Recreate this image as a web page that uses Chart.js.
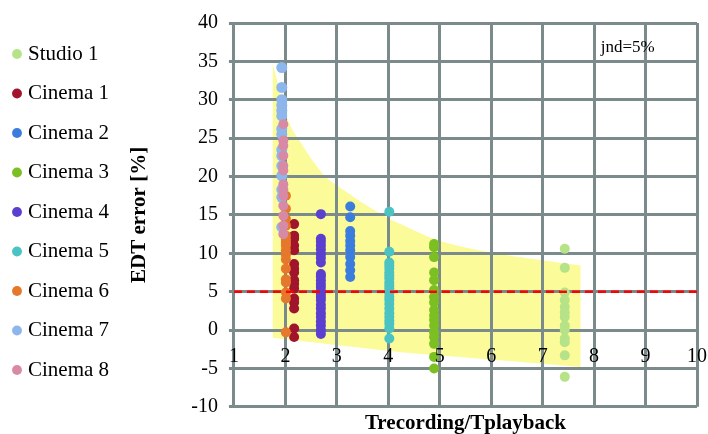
<!DOCTYPE html>
<html>
<head>
<meta charset="utf-8">
<script src="https://cdn.jsdelivr.net/npm/chart.js@4/dist/chart.umd.min.js"></script>
<style>
  html, body { margin: 0; padding: 0; background: #ffffff; }
  canvas { display: block; }
</style>
</head>
<body>
<canvas id="c" width="708" height="434"></canvas>
<script>
// ---- data ----
const seriesNames = ['Studio 1', 'Cinema 1', 'Cinema 2', 'Cinema 3', 'Cinema 4', 'Cinema 5', 'Cinema 6', 'Cinema 7', 'Cinema 8'];
const seriesX = [7.43, 2.17, 3.26, 4.89, 2.69, 4.02, 2.01, 1.93, 1.96];
const studio1 = [10.6, 8.1, 4.9, 3.9, 3.0, 2.3, 1.7, 0.6, 0.0, -1.1, -1.6, -3.3, -6.1];
const cinema1 = [13.8, 12.3, 11.9, 11.0, 10.4, 8.6, 8.0, 7.5, 6.5, 6.0, 5.4, 4.1, 3.6, 2.8, 0.2, -0.9];
const cinema2 = [16.1, 14.7, 12.9, 12.3, 11.6, 11.0, 10.4, 9.5, 8.6, 7.8, 6.9];
const cinema3 = [11.2, 10.8, 9.5, 7.5, 6.5, 5.2, 4.3, 3.6, 2.6, 1.9, 1.3, 0.6, -0.3, -0.9, -1.8, -3.5, -5.0];
const cinema4 = [15.1, 11.9, 11.5, 11.0, 10.5, 9.9, 9.4, 8.8, 7.3, 7.0, 6.5, 6.0, 5.6, 5.1, 4.7, 4.3, 3.9, 3.3, 2.8, 2.2, 1.7, 1.1, 0.6, 0.0, -0.5];
const cinema5 = [15.4, 10.2, 8.8, 8.4, 8.0, 7.5, 7.1, 6.7, 6.2, 5.8, 5.4, 4.8, 4.3, 3.9, 3.4, 2.8, 2.2, 1.7, 1.2, 0.8, 0.2, -1.1];
const cinema6 = [17.5, 15.8, 14.5, 13.6, 12.3, 11.8, 11.4, 11.0, 10.4, 9.8, 9.2, 8.0, 6.6, 6.2, 4.9, 4.1, -0.3];
const cinema7 = [34.2, 31.6, 30.0, 29.3, 28.6, 27.9, 26.2, 25.5, 23.5, 22.7, 21.4, 20.1, 18.3, 17.3, 13.4];
const cinema8 = [26.8, 24.7, 24.0, 22.7, 21.4, 20.8, 19.0, 18.3, 17.5, 16.2, 14.9, 13.6, 12.5];
const seriesValues = [studio1, cinema1, cinema2, cinema3, cinema4, cinema5, cinema6, cinema7, cinema8];
const seriesColors = ['#b6e388', '#a0142c', '#3b7ddd', '#7cbf23', '#5b3fcf', '#4cc3c3', '#e5782a', '#8db6ec', '#d68aa6'];
const seriesRadius = [5, 5, 5, 5, 5, 5, 5, 5.5, 5];

// tolerance band
const bandUpperX = [1.75, 2.05, 2.3, 2.79, 3.01, 3.91, 4.24, 4.88, 5.99, 7.0, 7.74];
const bandUpperY = [34.8, 27.4, 24.4, 19.9, 18.8, 14.9, 13.8, 11.9, 10.1, 9.1, 8.4];
const bandLowerX = [1.75, 4.24, 7.0, 7.74];
const bandLowerY = [-1.0, -2.9, -4.4, -4.8];

// jnd reference line
const jndX = [1, 10];
const jndY = [5, 5];
const jndLabel = 'jnd=5%';
const jndLabelPos = [8.13, 36.8];

// axes
const xTicks = [1, 10, 1];   // min, max, step
const yTicks = [-10, 40, 5];
const xTitle = 'Trecording/Tplayback';
const yTitle = 'EDT error [%]';

// ---- chart ----
const SERIF = "'Liberation Serif', 'Times New Roman', serif";
const GRID = '#7b8b8b';

const datasets = seriesNames.map((name, i) => ({
  label: name,
  data: seriesValues[i].map(v => ({ x: seriesX[i], y: v })),
  backgroundColor: seriesColors[i],
  borderColor: seriesColors[i],
  pointRadius: seriesRadius[i],
  pointBorderWidth: 0,
  pointStyle: 'circle',
  order: 10 - i
}));

datasets.push({
  type: 'line',
  label: 'band upper',
  data: bandUpperX.map((x, i) => ({ x, y: bandUpperY[i] })),
  borderWidth: 0,
  pointRadius: 0,
  cubicInterpolationMode: 'monotone',
  backgroundColor: '#fbfb9a',
  fill: '+1',
  order: 20
});
datasets.push({
  type: 'line',
  label: 'band lower',
  data: bandLowerX.map((x, i) => ({ x, y: bandLowerY[i] })),
  borderWidth: 0,
  pointRadius: 0,
  fill: false,
  order: 21
});
datasets.push({
  type: 'line',
  label: 'jnd',
  data: jndX.map((x, i) => ({ x, y: jndY[i] })),
  borderColor: '#ff0000',
  borderWidth: 2.5,
  borderDash: [8, 5],
  pointRadius: 0,
  fill: false,
  order: 0
});

const jndTextPlugin = {
  id: 'jndText',
  afterDatasetsDraw(chart) {
    const { ctx, scales } = chart;
    ctx.save();
    ctx.font = '17px ' + SERIF;
    ctx.fillStyle = '#000';
    ctx.textAlign = 'left';
    ctx.textBaseline = 'middle';
    ctx.fillText(jndLabel, scales.x.getPixelForValue(jndLabelPos[0]), scales.y.getPixelForValue(jndLabelPos[1]));
    ctx.restore();
  }
};

new Chart(document.getElementById('c'), {
  type: 'scatter',
  data: { datasets },
  plugins: [jndTextPlugin],
  options: {
    responsive: false,
    animation: false,
    devicePixelRatio: 1,
    layout: { padding: { top: 20, right: 11, bottom: -2, left: -2 } },
    plugins: {
      filler: { drawTime: 'beforeDraw' },
      tooltip: { enabled: false },
      legend: {
        position: 'left',
        align: 'start',
        maxWidth: 122,
        title: { display: true, text: ' ', color: 'rgba(0,0,0,0)', font: { size: 5, lineHeight: 1 }, padding: 0 },
        labels: {
          usePointStyle: true,
          pointStyle: 'circle',
          boxWidth: 1,
          boxHeight: 7,
          padding: 18.5,
          color: '#000',
          font: { family: SERIF, size: 21 },
          filter: item => item.datasetIndex < seriesNames.length,
          sort: (a, b) => a.datasetIndex - b.datasetIndex
        }
      }
    },
    scales: {
      x: {
        type: 'linear',
        position: { y: 0 },
        min: xTicks[0], max: xTicks[1],
        afterFit: s => { s.paddingLeft = 0; s.paddingRight = 0; },
        ticks: { stepSize: xTicks[2], color: '#000', font: { family: SERIF, size: 20 }, padding: 10, maxRotation: 0, z: 1 },
        grid: { color: GRID, lineWidth: 3, tickLength: 5, tickColor: GRID },
        border: { color: GRID, width: 3 }
      },
      xt: {
        type: 'linear',
        position: 'bottom',
        min: xTicks[0], max: xTicks[1],
        ticks: { display: false },
        grid: { display: false, drawTicks: false },
        border: { display: false },
        title: { display: true, text: xTitle, color: '#000', font: { family: SERIF, size: 21, weight: 'bold' }, padding: { top: 4, bottom: 0 } }
      },
      y: {
        type: 'linear',
        position: 'left',
        min: yTicks[0], max: yTicks[1],
        ticks: { stepSize: yTicks[2], color: '#000', font: { family: SERIF, size: 20 }, padding: 11 },
        grid: { color: GRID, lineWidth: 3, tickLength: 5, tickColor: GRID },
        border: { color: GRID, width: 3 },
        title: { display: true, text: yTitle, color: '#000', font: { family: SERIF, size: 21, weight: 'bold' }, padding: { top: 8, bottom: 28 } }
      }
    }
  }
});
</script>
</body>
</html>
